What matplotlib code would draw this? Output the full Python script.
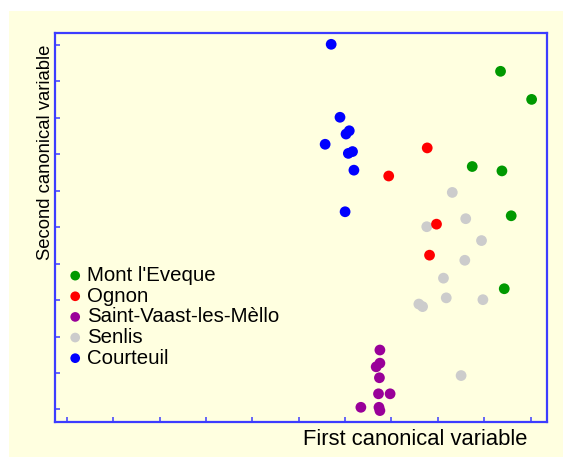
import matplotlib
matplotlib.use("Agg")
import matplotlib.pyplot as plt
from matplotlib.patches import Rectangle

# ---- data ----
groups = ["Mont l'Eveque", "Ognon", "Saint-Vaast-les-Mèllo", "Senlis", "Courteuil"]
colors = ["#009900", "#ff0000", "#990099", "#cccccc", "#0000ff"]

mont_x = [9.35, 10.02, 8.74, 9.38, 9.58, 9.43]
mont_y = [9.27, 8.50, 6.66, 6.54, 5.31, 3.31]

ognon_x = [7.77, 6.94, 7.97, 7.82]
ognon_y = [7.17, 6.40, 5.08, 4.23]

saint_x = [6.75, 6.75, 6.67, 6.74, 6.72, 6.97, 6.34, 6.73, 6.75]
saint_y = [1.63, 1.27, 1.17, 0.87, 0.43, 0.43, 0.06, 0.06, -0.03]

senlis_x = [8.31, 8.60, 7.76, 8.94, 8.58, 8.12, 8.18, 8.97, 7.59, 7.67, 8.50]
senlis_y = [5.95, 5.23, 5.01, 4.63, 4.09, 3.60, 3.06, 3.01, 2.89, 2.82, 0.93]

court_x = [5.70, 5.89, 6.09, 6.02, 5.57, 6.16, 6.07, 6.19, 6.00]
court_y = [10.01, 8.01, 7.64, 7.55, 7.27, 7.07, 7.02, 6.56, 5.42]

xticks = list(range(0, 11))
yticks = list(range(0, 11))

W, H = 563, 457
cream = "#ffffe0"
blue_axis = "#3c3cff"

fig = plt.figure(figsize=(W / 100, H / 100), dpi=100)
fig.patch.set_facecolor("white")
bg = Rectangle((9 / W, 0), 1, 1 - 11 / H, transform=fig.transFigure,
               facecolor=cream, edgecolor="none", zorder=-10)
fig.patches.append(bg)

left, right, top, bottom = 54.5, 546.7, 33, 422
ax = fig.add_axes([left / W, 1 - bottom / H, (right - left) / W, (bottom - top) / H])
ax.set_zorder(5)
ax.set_facecolor(cream)

S = 60
handles = {}
series = {
    "Senlis": (senlis_x, senlis_y, colors[3]),
    "Courteuil": (court_x, court_y, colors[4]),
    "Saint-Vaast-les-Mèllo": (saint_x, saint_y, colors[2]),
    "Ognon": (ognon_x, ognon_y, colors[1]),
    "Mont l'Eveque": (mont_x, mont_y, colors[0]),
}
for name, (xs, ys, c) in series.items():
    handles[name] = ax.scatter(xs, ys, s=S, color=c, edgecolors="none", label=name, zorder=3)

ax.set_xlim(-0.263, 10.345)
ax.set_ylim(-0.343, 10.32)
ax.set_xticks(xticks)
ax.set_yticks(yticks)
ax.tick_params(direction="in", length=3.5, width=1.1, color=blue_axis,
               labelbottom=False, labelleft=False, top=False, right=False)
for sp in ax.spines.values():
    sp.set_color(blue_axis)
    sp.set_linewidth(1.6)

font = "Liberation Sans"
leg = ax.legend([handles[g] for g in groups], groups, loc="upper left",
                bbox_to_anchor=(65 / W, 1 - 266 / H), bbox_transform=fig.transFigure,
                frameon=False, prop={"family": font, "size": 14.7},
                handletextpad=0.1, labelspacing=0.08, borderpad=0, borderaxespad=0,
                handlelength=1.0, markerscale=0.9)

fig.text(303 / W, 1 - 445 / H, "First canonical variable", ha="left", va="baseline",
         family=font, fontsize=15.8, color="black", zorder=6)
fig.text(45.5 / W, 1 - 45 / H, "Second canonical variable", ha="center", va="top",
         rotation=90, family=font, fontsize=13.3, color="black", zorder=6)

fig.savefig("out.png", dpi=100, facecolor="white")
